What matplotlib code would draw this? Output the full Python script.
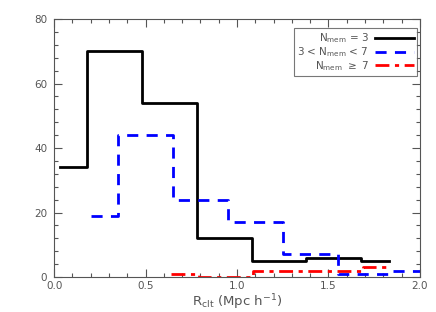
import numpy as np
import matplotlib
matplotlib.use("Agg")
import matplotlib.pyplot as plt
from matplotlib.ticker import MultipleLocator

# Datos de los histogramas (centros de bin y cuentas)
r_n3 = [0.03, 0.33, 0.63, 0.93, 1.23, 1.53, 1.83]
n_n3 = [34, 70, 54, 12, 5, 6, 5]

r_n37 = [0.2, 0.5, 0.8, 1.1, 1.4, 1.7, 2.0]
n_n37 = [19, 44, 24, 17, 7, 1, 2]

r_n7 = [0.64, 0.94, 1.24, 1.54, 1.84]
n_n7 = [1, 0, 2, 2, 3]

etiquetas = [r'N$_{\rm mem}$ = 3', r'3 < N$_{\rm mem}$ < 7', r'N$_{\rm mem}$ $\geq$ 7']

gris = '#555555'

fig = plt.figure(figsize=(4.36, 3.12), dpi=100)
ax = fig.add_axes([0.124, 0.112, 0.839, 0.827])

ax.step(r_n3, n_n3, where='mid', color='black', lw=2, label=etiquetas[0])
ax.step(r_n37, n_n37, where='mid', color='blue', lw=2, dashes=(4, 3), label=etiquetas[1])
ax.step(r_n7, n_n7, where='mid', color='red', lw=2, dashes=(5, 2, 1.5, 2), label=etiquetas[2])

ax.set_xlim(0, 2.0)
ax.set_ylim(0, 80)
ax.xaxis.set_major_locator(MultipleLocator(0.5))
ax.xaxis.set_minor_locator(MultipleLocator(0.1))
ax.yaxis.set_major_locator(MultipleLocator(20))
ax.yaxis.set_minor_locator(MultipleLocator(4))
ax.xaxis.set_major_formatter(matplotlib.ticker.FormatStrFormatter('%.1f'))

ax.tick_params(which='both', direction='in', top=True, right=True, color=gris,
               labelcolor=gris, labelsize=7.5, width=0.8)
ax.tick_params(which='major', length=6)
ax.tick_params(axis='x', which='major', pad=3)
ax.tick_params(axis='y', which='major', pad=5)
ax.tick_params(which='minor', length=3)
for s in ax.spines.values():
    s.set_color(gris)
    s.set_linewidth(0.8)

ax.set_xlabel(r'R$_{\rm clt}$ (Mpc h$^{-1}$)', fontsize=9.5, color=gris, labelpad=1)

leg = ax.legend(loc='upper right', fontsize=7.5, frameon=True, fancybox=False,
                edgecolor=gris, markerfirst=False, handlelength=3.7,
                handleheight=0.5, borderpad=0.3, labelspacing=0, borderaxespad=0,
                handletextpad=0.6, bbox_to_anchor=(0.992, 0.965))
for t in leg.get_texts():
    t.set_color(gris)
    t.set_ha('right')
leg.get_frame().set_linewidth(0.8)

fig.savefig('out.png', dpi=100)
